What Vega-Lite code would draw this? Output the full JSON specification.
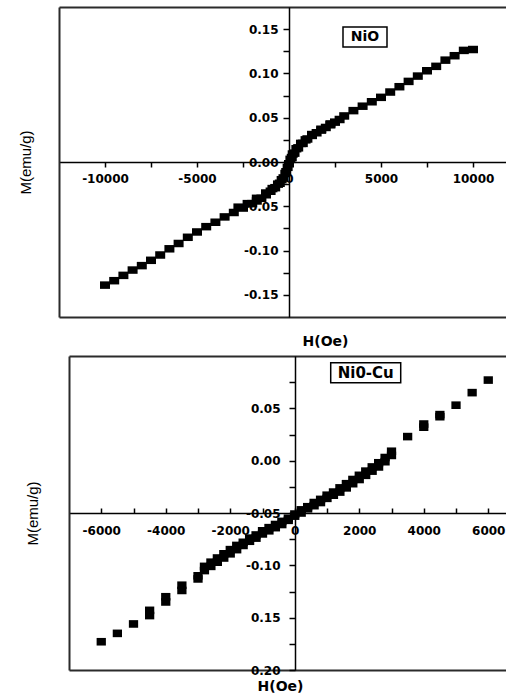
{
  "$schema": "https://vega.github.io/schema/vega-lite/v6.json",
  "background": "white",
  "padding": {"left": 18, "top": 7, "right": 0, "bottom": 0},
  "spacing": 8,
  "config": {"view": {"stroke": null}},
  "datasets": {
    "nio": [
      {"H": -10000, "M": -0.139}, {"H": -9500, "M": -0.134}, {"H": -9000, "M": -0.128}, {"H": -8500, "M": -0.122},
      {"H": -8000, "M": -0.117}, {"H": -7500, "M": -0.111}, {"H": -7000, "M": -0.105}, {"H": -6500, "M": -0.098},
      {"H": -6000, "M": -0.092}, {"H": -5500, "M": -0.085}, {"H": -5000, "M": -0.079}, {"H": -4500, "M": -0.073},
      {"H": -4000, "M": -0.068}, {"H": -3500, "M": -0.062}, {"H": -3000, "M": -0.057}, {"H": -2500, "M": -0.052},
      {"H": -2000, "M": -0.047}, {"H": -1750, "M": -0.044}, {"H": -1500, "M": -0.041}, {"H": -1250, "M": -0.037},
      {"H": -1000, "M": -0.033}, {"H": -750, "M": -0.029}, {"H": -500, "M": -0.024}, {"H": -300, "M": -0.018},
      {"H": -150, "M": -0.011}, {"H": 0, "M": -0.002}, {"H": 150, "M": 0.005}, {"H": 300, "M": 0.010},
      {"H": 500, "M": 0.016}, {"H": 750, "M": 0.021}, {"H": 1000, "M": 0.026}, {"H": 1250, "M": 0.030},
      {"H": 1500, "M": 0.033}, {"H": 1750, "M": 0.036}, {"H": 2000, "M": 0.039}, {"H": 2250, "M": 0.042},
      {"H": 2500, "M": 0.045}, {"H": 2750, "M": 0.048}, {"H": 3000, "M": 0.052}, {"H": 3500, "M": 0.058},
      {"H": 4000, "M": 0.063}, {"H": 4500, "M": 0.068}, {"H": 5000, "M": 0.073}, {"H": 5500, "M": 0.079},
      {"H": 6000, "M": 0.085}, {"H": 6500, "M": 0.091}, {"H": 7000, "M": 0.097}, {"H": 7500, "M": 0.103},
      {"H": 8000, "M": 0.108}, {"H": 8500, "M": 0.115}, {"H": 9000, "M": 0.120}, {"H": 9500, "M": 0.126},
      {"H": 10000, "M": 0.127},
      {"H": -2750, "M": -0.051}, {"H": -2250, "M": -0.047}, {"H": -1750, "M": -0.041}, {"H": -1250, "M": -0.035},
      {"H": -900, "M": -0.030}, {"H": -600, "M": -0.025}, {"H": -400, "M": -0.020}, {"H": -200, "M": -0.013},
      {"H": -75, "M": -0.006}, {"H": 75, "M": 0.003}, {"H": 200, "M": 0.009}, {"H": 400, "M": 0.015},
      {"H": 650, "M": 0.021}, {"H": 900, "M": 0.025}, {"H": 1250, "M": 0.031}, {"H": 1750, "M": 0.037},
      {"H": 2250, "M": 0.043}
    ],
    "nicu": [
      {"H": -6000, "M": -0.173}, {"H": -5500, "M": -0.165}, {"H": -5000, "M": -0.156},
      {"H": -4500, "M": -0.143}, {"H": -4500, "M": -0.148}, {"H": -4000, "M": -0.130}, {"H": -4000, "M": -0.135},
      {"H": -3500, "M": -0.119}, {"H": -3500, "M": -0.124}, {"H": -3000, "M": -0.110}, {"H": -3000, "M": -0.113},
      {"H": -2800, "M": -0.101}, {"H": -2800, "M": -0.105}, {"H": -2600, "M": -0.097}, {"H": -2600, "M": -0.101},
      {"H": -2400, "M": -0.093}, {"H": -2400, "M": -0.097}, {"H": -2200, "M": -0.089}, {"H": -2200, "M": -0.093},
      {"H": -2000, "M": -0.085}, {"H": -2000, "M": -0.089}, {"H": -1800, "M": -0.081}, {"H": -1800, "M": -0.085},
      {"H": -1600, "M": -0.078}, {"H": -1600, "M": -0.081}, {"H": -1400, "M": -0.074}, {"H": -1400, "M": -0.077},
      {"H": -1200, "M": -0.071}, {"H": -1200, "M": -0.074}, {"H": -1000, "M": -0.067}, {"H": -1000, "M": -0.070},
      {"H": -800, "M": -0.064}, {"H": -800, "M": -0.067}, {"H": -600, "M": -0.061}, {"H": -600, "M": -0.064},
      {"H": -400, "M": -0.058}, {"H": -400, "M": -0.061}, {"H": -200, "M": -0.055}, {"H": -200, "M": -0.057},
      {"H": 0, "M": -0.051}, {"H": 0, "M": -0.053}, {"H": 200, "M": -0.047}, {"H": 200, "M": -0.050},
      {"H": 400, "M": -0.044}, {"H": 400, "M": -0.046}, {"H": 600, "M": -0.040}, {"H": 600, "M": -0.043},
      {"H": 800, "M": -0.037}, {"H": 800, "M": -0.040}, {"H": 1000, "M": -0.033}, {"H": 1000, "M": -0.036},
      {"H": 1200, "M": -0.030}, {"H": 1200, "M": -0.033}, {"H": 1400, "M": -0.026}, {"H": 1400, "M": -0.030},
      {"H": 1600, "M": -0.022}, {"H": 1600, "M": -0.026}, {"H": 1800, "M": -0.018}, {"H": 1800, "M": -0.022},
      {"H": 2000, "M": -0.014}, {"H": 2000, "M": -0.018}, {"H": 2200, "M": -0.010}, {"H": 2200, "M": -0.014},
      {"H": 2400, "M": -0.006}, {"H": 2400, "M": -0.010}, {"H": 2600, "M": -0.002}, {"H": 2600, "M": -0.006},
      {"H": 2800, "M": 0.003}, {"H": 2800, "M": -0.001}, {"H": 3000, "M": 0.009}, {"H": 3000, "M": 0.005},
      {"H": 3500, "M": 0.023}, {"H": 4000, "M": 0.032}, {"H": 4000, "M": 0.035},
      {"H": 4500, "M": 0.042}, {"H": 4500, "M": 0.044}, {"H": 5000, "M": 0.053},
      {"H": 5500, "M": 0.065}, {"H": 6000, "M": 0.077}
    ],
    "nioTag": [{"label": "NiO", "H": 4130, "M": 0.141}],
    "nicuTag": [{"label": "Ni0-Cu", "H": 2200, "M": 0.084}]
  },
  "vconcat": [
    {
      "width": 447,
      "height": 310,
      "resolve": {"axis": {"x": "independent", "y": "independent"}},
      "layer": [
        {
          "data": {"name": "nio"},
          "mark": {"type": "point", "shape": "M-1,-0.75L1,-0.75L1,0.75L-1,0.75Z", "filled": true, "color": "#000", "size": 100, "opacity": 1},
          "encoding": {
            "x": {
              "field": "H", "type": "quantitative",
              "scale": {"domain": [-12500, 11793], "nice": false, "zero": false},
              "axis": {
                "orient": "bottom", "offset": -155, "title": null, "grid": false,
                "values": [-10000, -7500, -5000, -2500, 0, 2500, 5000, 7500, 10000],
                "labelExpr": "datum.value % 5000 === 0 ? toString(datum.value) : ''",
                "tickSize": 5, "tickWidth": 1.5, "tickColor": "#000",
                "domainColor": "#000", "domainWidth": 1.5,
                "labelPadding": 6, "labelFont": "DejaVu Sans", "labelFontWeight": "bold", "labelFontSize": 12,
                "labelColor": "#000", "labelFlush": false, "labelOverlap": false
              }
            },
            "y": {
              "field": "M", "type": "quantitative",
              "scale": {"domain": [-0.175, 0.175], "nice": false, "zero": false},
              "axis": {
                "orient": "left", "offset": -230, "title": null, "grid": false,
                "values": [-0.15, -0.125, -0.1, -0.075, -0.05, -0.025, 0, 0.025, 0.05, 0.075, 0.1, 0.125, 0.15],
                "labelExpr": "abs(round(datum.value * 40)) % 2 === 0 ? replace(format(datum.value, '.2f'), '\u2212', '-') : ''",
                "tickSize": 6, "tickWidth": 1.5, "tickColor": "#000",
                "domainColor": "#000", "domainWidth": 1.5,
                "labelPadding": 5, "labelFont": "DejaVu Sans", "labelFontWeight": "bold", "labelFontSize": 12,
                "labelColor": "#000", "labelFlush": false, "labelOverlap": false
              }
            }
          }
        },
        {
          "data": {"name": "nioTag"},
          "mark": {"type": "text", "font": "DejaVu Sans", "fontWeight": "bold", "fontSize": 14, "color": "#000", "baseline": "middle"},
          "encoding": {
            "x": {
              "field": "H", "type": "quantitative",
              "scale": {"domain": [-12500, 11793], "nice": false, "zero": false},
              "axis": {
                "orient": "bottom", "title": "H(Oe)", "labels": false, "ticks": false, "grid": false,
                "domainColor": "#2b2b2b", "domainWidth": 2,
                "titleFont": "DejaVu Sans", "titleFontWeight": "bold", "titleFontSize": 14, "titleColor": "#000",
                "titlePadding": 17, "titleX": 266
              }
            },
            "y": {
              "field": "M", "type": "quantitative",
              "scale": {"domain": [-0.175, 0.175], "nice": false, "zero": false},
              "axis": {
                "orient": "left", "title": "M(emu/g)", "labels": false, "ticks": false, "grid": false,
                "domainColor": "#2b2b2b", "domainWidth": 2,
                "titleFont": "Liberation Sans", "titleFontWeight": "normal", "titleFontSize": 15, "titleColor": "#000",
                "titlePadding": 26
              }
            },
            "text": {"field": "label"}
          }
        },
        {
          "data": {"name": "nioTag"},
          "mark": {"type": "point", "shape": "M-1,-0.4545L1,-0.4545L1,0.4545L-1,0.4545Z", "filled": false, "color": "#000", "strokeWidth": 1.5, "size": 1936, "opacity": 1},
          "encoding": {
            "x": {
              "field": "H", "type": "quantitative",
              "scale": {"domain": [-12500, 11793], "nice": false, "zero": false},
              "axis": {"orient": "top", "title": null, "labels": false, "ticks": false, "grid": false, "domainColor": "#2b2b2b", "domainWidth": 2}
            },
            "y": {
              "field": "M", "type": "quantitative",
              "scale": {"domain": [-0.175, 0.175], "nice": false, "zero": false},
              "axis": null
            }
          }
        }
      ]
    },
    {
      "width": 447,
      "height": 314,
      "resolve": {"axis": {"x": "independent", "y": "independent"}},
      "layer": [
        {
          "data": {"name": "nicu"},
          "mark": {"type": "point", "shape": "M-1,-0.82L1,-0.82L1,0.82L-1,0.82Z", "filled": true, "color": "#000", "size": 86, "opacity": 1},
          "encoding": {
            "x": {
              "field": "H", "type": "quantitative",
              "scale": {"domain": [-7000, 6550], "range": [10, 447], "nice": false, "zero": false},
              "axis": {
                "orient": "bottom", "offset": -157, "title": null, "grid": false,
                "values": [-6000, -5000, -4000, -3000, -2000, -1000, 0, 1000, 2000, 3000, 4000, 5000, 6000],
                "labelExpr": "datum.value % 2000 === 0 ? toString(datum.value) : ''",
                "tickSize": -5, "tickWidth": 1.5, "tickColor": "#000",
                "domainColor": "#000", "domainWidth": 1.5,
                "labelPadding": 17, "labelFont": "DejaVu Sans", "labelFontWeight": "bold", "labelFontSize": 12,
                "labelColor": "#000", "labelFlush": false, "labelOverlap": false
              }
            },
            "y": {
              "field": "M", "type": "quantitative",
              "scale": {"domain": [-0.2, 0.1], "nice": false, "zero": false},
              "axis": {
                "orient": "left", "offset": -236, "title": null, "grid": false,
                "values": [-0.2, -0.175, -0.15, -0.125, -0.1, -0.075, -0.05, -0.025, 0, 0.025, 0.05, 0.075],
                "labelExpr": "abs(round(datum.value * 40)) % 2 === 0 ? (datum.value < -0.12 ? format(-datum.value, '.2f') : replace(format(datum.value, '.2f'), '\u2212', '-')) : ''",
                "tickSize": 6, "tickWidth": 1.5, "tickColor": "#000",
                "domainColor": "#000", "domainWidth": 1.5,
                "labelPadding": 9, "labelFont": "DejaVu Sans", "labelFontWeight": "bold", "labelFontSize": 12,
                "labelColor": "#000", "labelFlush": false, "labelOverlap": false
              }
            }
          }
        },
        {
          "data": {"name": "nicuTag"},
          "mark": {"type": "text", "font": "DejaVu Sans", "fontWeight": "bold", "fontSize": 15, "color": "#000", "baseline": "middle"},
          "encoding": {
            "x": {
              "field": "H", "type": "quantitative",
              "scale": {"domain": [-7000, 6550], "range": [10, 447], "nice": false, "zero": false},
              "axis": {
                "orient": "bottom", "title": "H(Oe)", "labels": false, "ticks": false, "grid": false,
                "domainColor": "#2b2b2b", "domainWidth": 2,
                "titleFont": "DejaVu Sans", "titleFontWeight": "bold", "titleFontSize": 14, "titleColor": "#000",
                "titlePadding": 9, "titleX": 221
              }
            },
            "y": {
              "field": "M", "type": "quantitative",
              "scale": {"domain": [-0.2, 0.1], "nice": false, "zero": false},
              "axis": {
                "orient": "left", "offset": -10, "title": "M(emu/g)", "labels": false, "ticks": false, "grid": false,
                "domainColor": "#2b2b2b", "domainWidth": 2,
                "titleFont": "Liberation Sans", "titleFontWeight": "normal", "titleFontSize": 15, "titleColor": "#000",
                "titlePadding": 29
              }
            },
            "text": {"field": "label"}
          }
        },
        {
          "data": {"name": "nicuTag"},
          "mark": {"type": "point", "shape": "M-1,-0.2857L1,-0.2857L1,0.2857L-1,0.2857Z", "filled": false, "color": "#000", "strokeWidth": 1.5, "size": 4900, "opacity": 1},
          "encoding": {
            "x": {
              "field": "H", "type": "quantitative",
              "scale": {"domain": [-7000, 6550], "range": [10, 447], "nice": false, "zero": false},
              "axis": {"orient": "top", "title": null, "labels": false, "ticks": false, "grid": false, "domainColor": "#2b2b2b", "domainWidth": 2}
            },
            "y": {
              "field": "M", "type": "quantitative",
              "scale": {"domain": [-0.2, 0.1], "nice": false, "zero": false},
              "axis": null
            }
          }
        }
      ]
    }
  ]
}
